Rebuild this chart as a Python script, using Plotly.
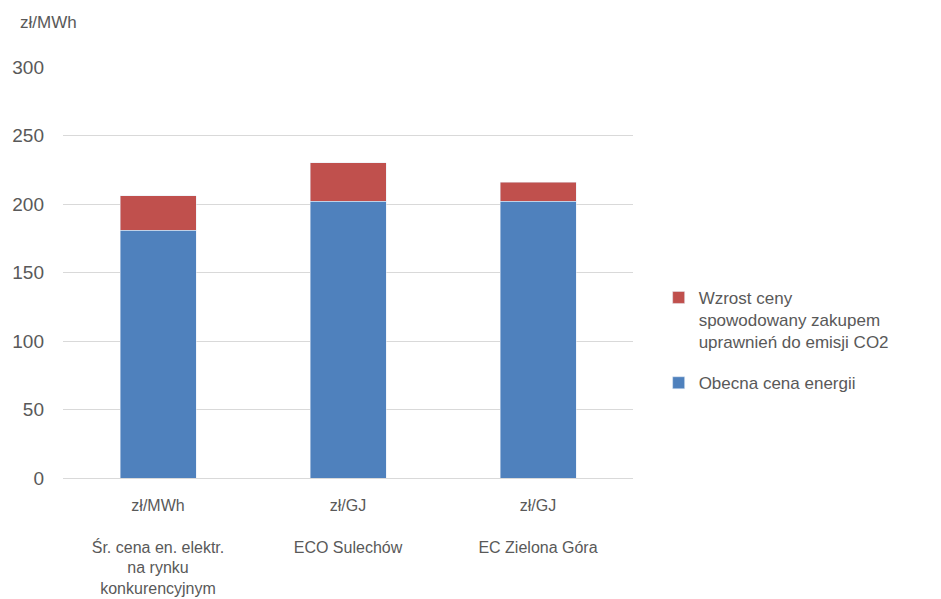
import plotly.graph_objects as go

categories = ["Śr. cena en. elektr.<br>na rynku<br>konkurencyjnym", "ECO Sulechów", "EC Zielona Góra"]
units = ["zł/MWh", "zł/GJ", "zł/GJ"]
current_price = [181, 202, 202]
co2_increase = [25, 28, 14]
y_ticks = [0, 50, 100, 150, 200, 250, 300]

tick_text = [f"{u}<br><br>{c}" for u, c in zip(units, categories)]
font_family = "Liberation Sans, Arial, sans-serif"
text_color = "#595959"

fig = go.Figure()
fig.add_trace(go.Bar(
    x=list(range(len(categories))), y=current_price,
    name="Obecna cena energii", marker_color="#4F81BD",
    legendgroup="b", legendrank=2,
))
fig.add_trace(go.Bar(
    x=list(range(len(categories))), y=co2_increase,
    name="Wzrost ceny<br>spowodowany zakupem<br>uprawnień do emisji CO2",
    marker_color="#C0504D", legendgroup="a", legendrank=1,
))

fig.update_layout(
    width=941, height=599,
    barmode="stack", bargap=0.6,
    paper_bgcolor="white", plot_bgcolor="white",
    margin=dict(l=55, r=316, t=59, b=129, autoexpand=False),
    font=dict(family=font_family, size=17, color=text_color),
    legend=dict(
        x=1.045, y=0.482, xanchor="left", yanchor="top", valign="top",
        traceorder="grouped", font=dict(size=17, color=text_color),
        itemwidth=30, tracegroupgap=16,
    ),
    showlegend=True,
    xaxis=dict(
        tickmode="array", tickvals=list(range(len(categories))), ticktext=tick_text,
        range=[-0.5, 2.5], showgrid=False, zeroline=False, automargin=False,
        showline=False, ticks="", ticklabelstandoff=16,
        tickfont=dict(size=16, color=text_color),
    ),
    yaxis=dict(
        range=[0, 300], tickvals=y_ticks, showgrid=True, gridcolor="#D9D9D9",
        gridwidth=1, zeroline=True, zerolinecolor="#D9D9D9", zerolinewidth=1,
        automargin=False, ticks="", ticklabelstandoff=18,
        tickfont=dict(size=19, color=text_color),
    ),
    annotations=[dict(
        text="zł/MWh", xref="paper", yref="paper", x=-0.079, y=1.08,
        xanchor="left", yanchor="bottom", showarrow=False,
        font=dict(size=17, color=text_color),
    )],
)

fig.write_html("out.html")
